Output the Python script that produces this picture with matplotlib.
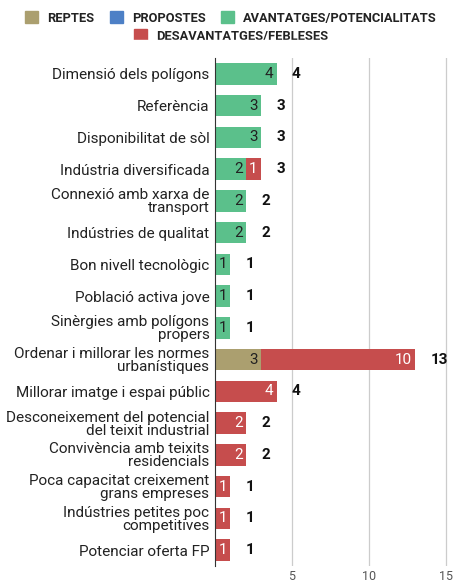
import matplotlib.pyplot as plt
import numpy as np
from matplotlib.patches import Patch, Rectangle

plt.rcParams['font.family'] = ['Roboto', 'DejaVu Sans']

# categories, de dalt a baix
categories = [
    "Dimensió dels polígons",
    "Referència",
    "Disponibilitat de sòl",
    "Indústria diversificada",
    "Connexió amb xarxa de\ntransport",
    "Indústries de qualitat",
    "Bon nivell tecnològic",
    "Població activa jove",
    "Sinèrgies amb polígons\npropers",
    "Ordenar i millorar les normes\nurbanístiques",
    "Millorar imatge i espai públic",
    "Desconeixement del potencial\ndel teixit industrial",
    "Convivència amb teixits\nresidencials",
    "Poca capacitat creixement\ngrans empreses",
    "Indústries petites poc\ncompetitives",
    "Potenciar oferta FP",
]

reptes = [0, 0, 0, 0, 0, 0, 0, 0, 0, 3, 0, 0, 0, 0, 0, 0]
propostes = [0] * 16
avantatges = [4, 3, 3, 2, 2, 2, 1, 1, 1, 0, 0, 0, 0, 0, 0, 0]
desavantatges = [0, 0, 0, 1, 0, 0, 0, 0, 0, 10, 4, 2, 2, 1, 1, 1]

series_noms = ["REPTES", "PROPOSTES", "AVANTATGES/POTENCIALITATS", "DESAVANTATGES/FEBLESES"]
colors = ["#ab9f6f", "#4d80c6", "#5bc08b", "#c64d4d"]
text_colors = ["#222222", "#ffffff", "#222222", "#ffffff"]

fig = plt.figure(figsize=(4.62, 5.85), dpi=100)
ax = fig.add_axes([215 / 462, 1 - 566 / 585, 246 / 462, 508 / 585])

y = np.arange(len(categories))
left = np.zeros(len(categories))
for serie, col, tcol in zip([reptes, propostes, avantatges, desavantatges], colors, text_colors):
    vals = np.array(serie, dtype=float)
    ax.barh(y, vals, left=left, height=0.68, color=col, zorder=3)
    for i, v in enumerate(vals):
        if v > 0:
            if v <= 1:
                ax.text(left[i] + v / 2, y[i], str(int(v)), ha='center', va='center',
                        fontsize=11, color=tcol, zorder=4)
            else:
                ax.text(left[i] + v - 0.2, y[i], str(int(v)), ha='right', va='center',
                        fontsize=11, color=tcol, zorder=4)
    left += vals

# totals
for i, t in enumerate(left):
    ax.text(t + 1.0, y[i], str(int(t)), ha='left', va='center', fontsize=11,
            fontweight='bold', color='#111111')

ax.set_xlim(0, 16)
ax.set_ylim(len(categories) - 0.5, -0.5)
ax.set_yticks(y)
ax.set_yticklabels(categories, fontsize=11, color='#222222', linespacing=0.92)
ax.set_xticks([5, 10, 15])
ax.set_xticklabels(["5", "10", "15"], fontsize=9, color='#555555')
ax.tick_params(axis='both', length=0, pad=4)
ax.tick_params(axis='x', pad=3)
ax.grid(axis='x', color='#cccccc', linewidth=0.9, zorder=0)
for s in ['top', 'right', 'bottom']:
    ax.spines[s].set_visible(False)
ax.spines['left'].set_color('#333333')
ax.spines['left'].set_zorder(5)

# llegenda en dues files
h1 = [Patch(color=c) for c in colors[:3]]
leg1 = fig.legend(h1, series_noms[:3], loc='center', bbox_to_anchor=(0.5, 1 - 18 / 585),
                  ncol=3, frameon=False, handlelength=1.0, handleheight=1.0,
                  handletextpad=0.7, columnspacing=1.2, prop={'weight': 'bold', 'size': 9.3})
leg2 = fig.legend([Patch(color=colors[3])], series_noms[3:], loc='center',
                  bbox_to_anchor=(0.5, 1 - 36 / 585), frameon=False, handlelength=1.0,
                  handleheight=1.0, handletextpad=0.7, prop={'weight': 'bold', 'size': 9.3})
for leg in (leg1, leg2):
    for t in leg.get_texts():
        t.set_color('#222222')
leg2.set_zorder(1)
fig.patches.append(Rectangle((0, 1 - 52 / 585), 1, 12 / 585, transform=fig.transFigure,
                             color='white', zorder=2))

fig.savefig("out.png", dpi=100)
